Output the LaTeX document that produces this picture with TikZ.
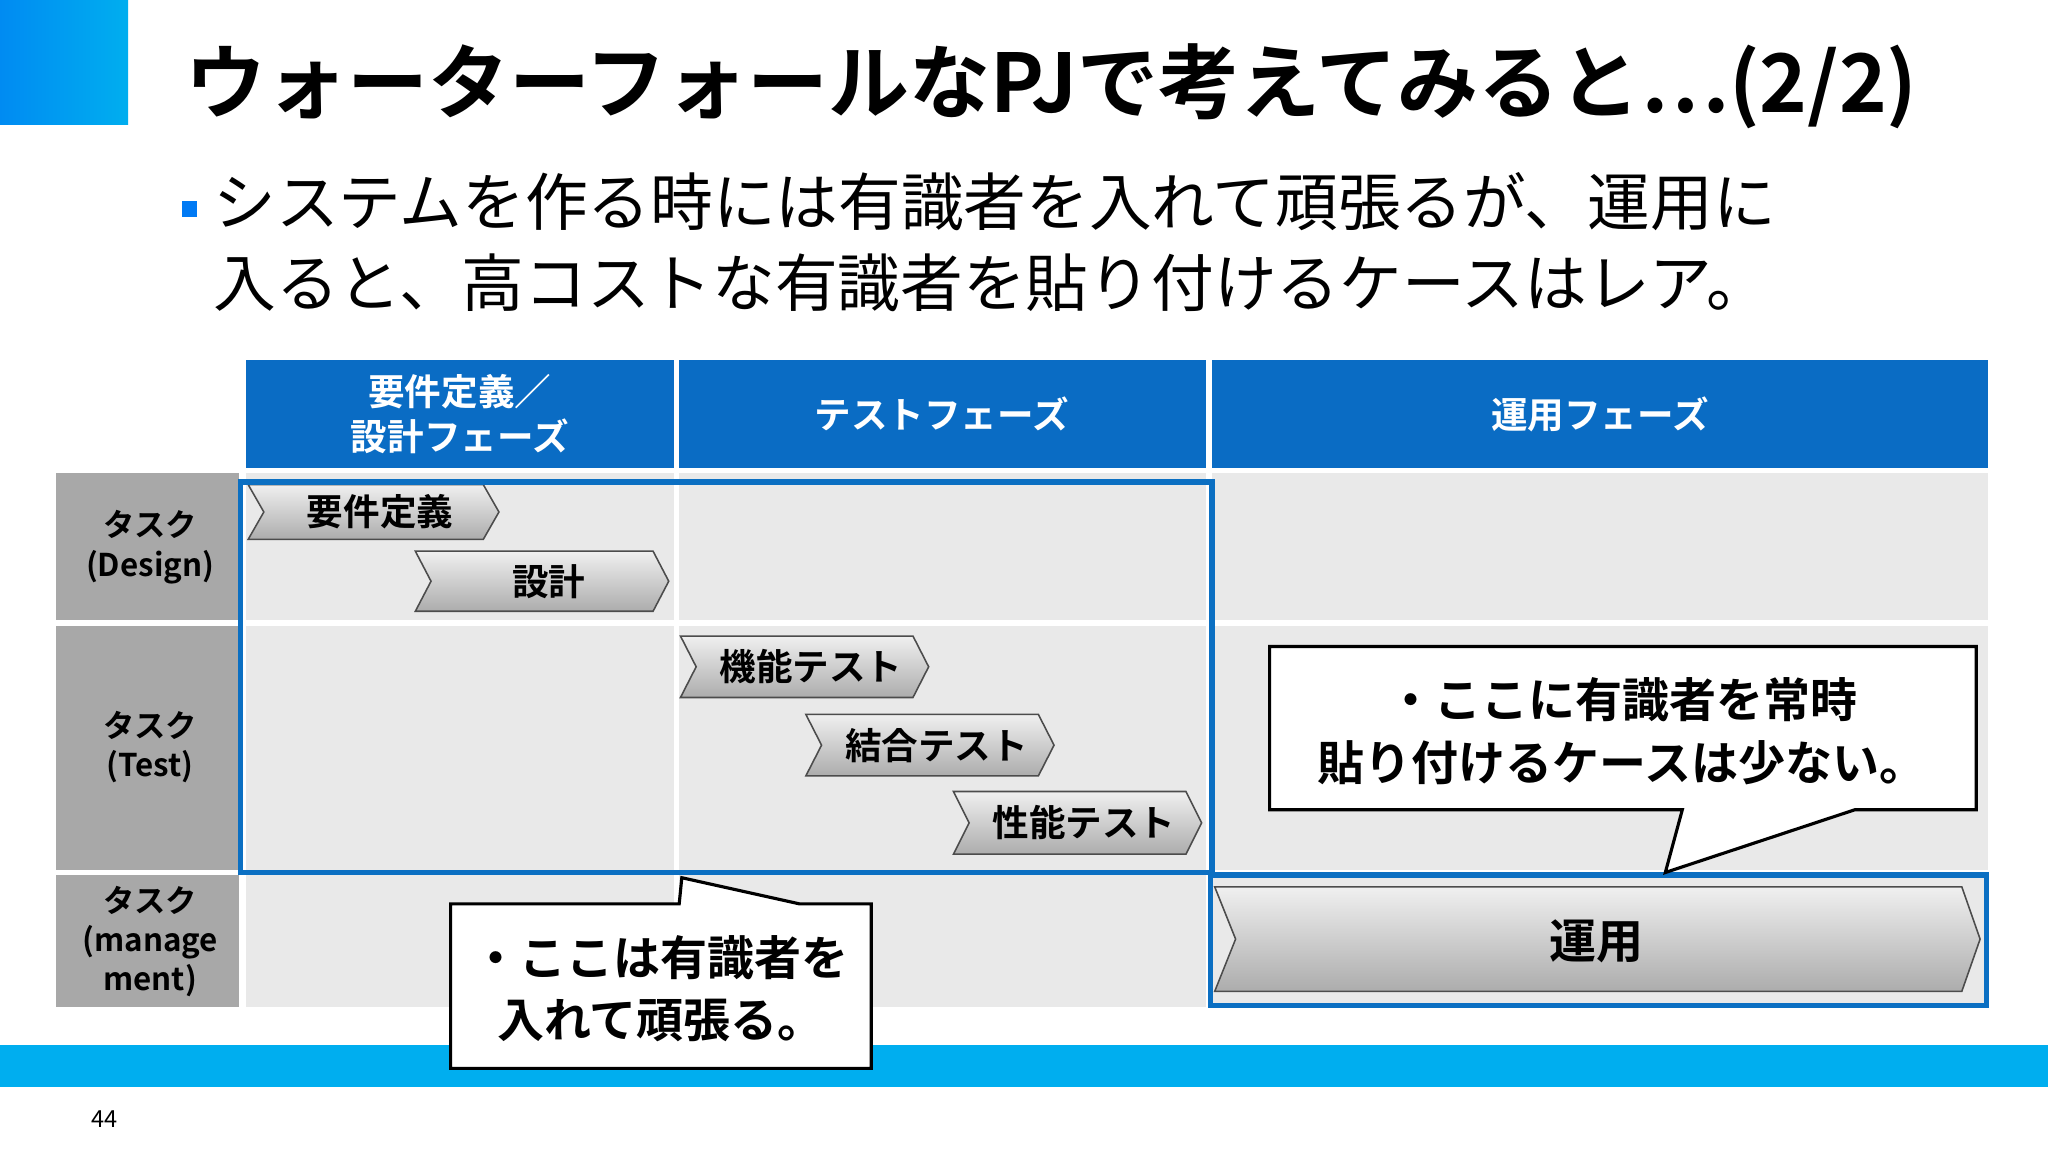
\documentclass[tikz,border=0pt]{standalone}
\usepackage{fontspec}
\setmainfont{Noto Sans CJK JP}
\newfontfamily\jpb{Noto Sans CJK JP Bold}
\usetikzlibrary{calc}
\definecolor{hdr}{HTML}{0A6CC4}
\definecolor{cyanband}{HTML}{00AEEF}
\definecolor{cellbg}{HTML}{E9E9E9}
\definecolor{lblbg}{HTML}{A8A8A8}
\definecolor{frame}{HTML}{0B6FC2}
\tikzset{
 hdrtxt/.style={text=white,font=\jpb\fontsize{14}{17}\selectfont,align=center},
 lbltxt/.style={font=\jpb\fontsize{12}{15}\selectfont,align=center},
 chevtxt/.style={font=\jpb\fontsize{14}{17}\selectfont},
 calltxt/.style={font=\jpb\fontsize{18}{24}\selectfont,align=center},
 chevfill/.style={top color=gray!12,bottom color=gray!65,draw=black!70,line width=0.6pt},
}
\newcommand{\chev}[6]{% x1 x2 y1 y2 name text
 \path[chevfill] (#1,#3) -- (#2-12,#3) -- (#2,{(#3+#4)/2}) -- (#2-12,#4) -- (#1,#4) -- (#1+12,{(#3+#4)/2}) -- cycle;
 \node[chevtxt] (#5) at ({(#1+#2)/2+5},{(#3+#4)/2}) {#6};}
\begin{document}
\begin{tikzpicture}[x=0.5pt,y=-0.5pt]
\useasboundingbox (0,0) rectangle (1568,882);
\fill[white] (0,0) rectangle (1568,882);
\fill[left color=cyanband!80!blue, right color=cyanband] (0,0) rectangle (98,95);
\node[anchor=west,font=\jpb\fontsize{31}{36}\selectfont] (title) at (135,66) {ウォーターフォールなPJで考えてみると…(2/2)};
\fill[cyanband!70!blue] (139,154) rectangle (151,166);
\node[anchor=north west,align=left,font=\fontsize{24}{31}\selectfont,inner sep=0] (bul) at (163,132) {システムを作る時には有識者を入れて頑張るが、運用に\\入ると、高コストな有識者を貼り付けるケースはレア。};
% header
\fill[hdr] (188,276) rectangle (516,358);
\fill[hdr] (520,276) rectangle (923,358);
\fill[hdr] (928,276) rectangle (1522,358);
\node[hdrtxt] (h1) at (352,317) {要件定義／\\設計フェーズ};
\node[hdrtxt] (h2) at (721,317) {テストフェーズ};
\node[hdrtxt] (h3) at (1225,317) {運用フェーズ};
% rows
\foreach \ya/\yb in {362/475,479/666,670/771}{
 \fill[lblbg] (43,\ya) rectangle (183,\yb);
 \fill[cellbg] (188,\ya) rectangle (516,\yb);
 \fill[cellbg] (520,\ya) rectangle (923,\yb);
 \fill[cellbg] (928,\ya) rectangle (1522,\yb);
}
\node[lbltxt] (r1) at (115,419) {タスク\\(Design)};
\node[lbltxt] (r2) at (115,572) {タスク\\(Test)};
\node[lbltxt] (r3) at (115,721) {タスク\\(manage\\ment)};
% bottom band
\fill[cyanband] (0,800) rectangle (1568,832);
\node[font=\fontsize{9}{11}\selectfont] (pg) at (80,857) {44};
% chevrons
\chev{190}{382}{371}{413}{c1}{要件定義}
\chev{318}{512}{422}{468}{c2}{設計}
\chev{521}{711}{487}{534}{c3}{機能テスト}
\chev{617}{807}{547}{594}{c4}{結合テスト}
\chev{730}{920}{606}{654}{c5}{性能テスト}
\path[chevfill] (930,679) -- (1502,679) -- (1516,719) -- (1502,759) -- (930,759) -- (946,719) -- cycle;
\node[font=\jpb\fontsize{18}{22}\selectfont] (c6) at (1222,721) {運用};
% frames
\draw[frame,line width=2pt] (184,369) rectangle (928,668);
\draw[frame,line width=2pt] (927,670) rectangle (1521,770);
% callouts
\draw[fill=white,line width=1.2pt] (972,495) -- (1513,495) -- (1513,620) -- (1420,620) -- (1275,668) -- (1288,620) -- (972,620) -- cycle;
\node[calltxt] (t1) at (1242,560) {・ここに有識者を常時\\貼り付けるケースは少ない。};
\draw[fill=white,line width=1.2pt] (345,692) -- (520,692) -- (522,672) -- (612,692) -- (667,692) -- (667,818) -- (345,818) -- cycle;
\node[calltxt] (t2) at (506,757) {・ここは有識者を\\入れて頑張る。};
\end{tikzpicture}
\end{document}
